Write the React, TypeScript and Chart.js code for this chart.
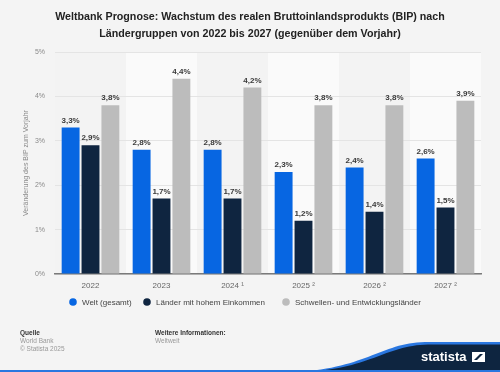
import React, { useEffect, useRef } from "react";
import { Chart, registerables } from "chart.js";

Chart.register(...registerables);

const categories = ["2022", "2023", "2024 ¹", "2025 ²", "2026 ²", "2027 ²"];
const seriesNames = ["Welt (gesamt)", "Länder mit hohem Einkommen", "Schwellen- und Entwicklungsländer"];
const welt = [3.3, 2.8, 2.8, 2.3, 2.4, 2.6];
const hohesEinkommen = [2.9, 1.7, 1.7, 1.2, 1.4, 1.5];
const schwellen = [3.8, 4.4, 4.2, 3.8, 3.8, 3.9];
const colors = ["#0766e2", "#0f2540", "#bcbcbc"];
const titleLines = [
  "Weltbank Prognose: Wachstum des realen Bruttoinlandsprodukts (BIP) nach",
  "Ländergruppen von 2022 bis 2027 (gegenüber dem Vorjahr)",
];
const yAxisTitle = "Veränderung des BIP zum Vorjahr";

const FONT = "'Liberation Sans', Arial, Helvetica, sans-serif";

const decoPlugin = {
  id: "deco",
  beforeDraw(chart: any) {
    const { ctx, chartArea, width, height } = chart;
    ctx.save();
    ctx.fillStyle = "#f4f4f4";
    ctx.fillRect(0, 0, width, height);
    const n = categories.length;
    const w = (chartArea.right - chartArea.left) / n;
    for (let i = 0; i < n; i++) {
      ctx.fillStyle = i % 2 === 0 ? "#f3f3f3" : "#fafafa";
      ctx.fillRect(chartArea.left + i * w, chartArea.top, w, chartArea.bottom - chartArea.top);
    }
    ctx.restore();
  },
  afterDatasetsDraw(chart: any) {
    const { ctx } = chart;
    ctx.save();
    ctx.font = `bold 8px ${FONT}`;
    ctx.fillStyle = "#3a3a3a";
    ctx.textAlign = "center";
    ctx.textBaseline = "bottom";
    chart.data.datasets.forEach((ds: any, di: number) => {
      const meta = chart.getDatasetMeta(di);
      meta.data.forEach((el: any, i: number) => {
        const v = ds.data[i];
        ctx.fillText(v.toFixed(1).replace(".", ",") + "%", el.x, el.y - 3);
      });
    });
    ctx.restore();
  },
  afterDraw(chart: any) {
    const { ctx, width, height } = chart;
    ctx.save();
    // title
    ctx.fillStyle = "#222";
    ctx.font = `bold 10.7px ${FONT}`;
    ctx.textAlign = "center";
    ctx.textBaseline = "middle";
    ctx.fillText(titleLines[0], 250, 17);
    ctx.fillText(titleLines[1], 250, 34);

    // legend
    ctx.textAlign = "left";
    ctx.font = `8px ${FONT}`;
    const lx = [73, 147, 286];
    const ly = 302;
    seriesNames.forEach((name, i) => {
      ctx.fillStyle = colors[i];
      ctx.beginPath();
      ctx.arc(lx[i], ly, 3.8, 0, Math.PI * 2);
      ctx.fill();
      ctx.fillStyle = "#444";
      ctx.fillText(name, lx[i] + 9, ly + 0.5);
    });

    // footer
    ctx.font = `bold 6.5px ${FONT}`;
    ctx.fillStyle = "#333";
    ctx.fillText("Quelle", 20, 333);
    ctx.fillText("Weitere Informationen:", 155, 333);
    ctx.font = `6.5px ${FONT}`;
    ctx.fillStyle = "#999";
    ctx.fillText("World Bank", 20, 341);
    ctx.fillText("© Statista 2025", 20, 349);
    ctx.fillText("Weltweit", 155, 341);

    // logo wave
    ctx.beginPath();
    ctx.moveTo(290, height);
    ctx.bezierCurveTo(365, height - 2, 380, 343, 425, 342);
    ctx.lineTo(width, 342);
    ctx.lineTo(width, height);
    ctx.closePath();
    ctx.fillStyle = "#2a77e0";
    ctx.fill();
    ctx.beginPath();
    ctx.moveTo(300, height);
    ctx.bezierCurveTo(370, height - 2, 384, 345.5, 428, 344.5);
    ctx.lineTo(width, 344.5);
    ctx.lineTo(width, height);
    ctx.closePath();
    ctx.fillStyle = "#0e2540";
    ctx.fill();
    ctx.fillStyle = "#2a77e0";
    ctx.fillRect(0, height - 2, width, 2);
    ctx.fillStyle = "#ffffff";
    ctx.font = `bold 13px ${FONT}`;
    ctx.textBaseline = "middle";
    ctx.fillText("statista", 421, 357);
    // icon
    ctx.fillRect(472, 352, 13, 10);
    ctx.fillStyle = "#0e2540";
    ctx.beginPath();
    ctx.moveTo(474, 360);
    ctx.lineTo(480, 354);
    ctx.lineTo(483, 354);
    ctx.lineTo(477, 360);
    ctx.closePath();
    ctx.fill();
    ctx.restore();
  },
};

export default function App() {
  const ref = useRef<HTMLCanvasElement>(null);
  useEffect(() => {
    document.body.style.margin = "0";
    const chart = new Chart(ref.current!, {
      type: "bar",
      data: {
        labels: categories,
        datasets: [
          { label: seriesNames[0], data: welt, backgroundColor: colors[0] },
          { label: seriesNames[1], data: hohesEinkommen, backgroundColor: colors[1] },
          { label: seriesNames[2], data: schwellen, backgroundColor: colors[2] },
        ],
      },
      options: {
        animation: false,
        responsive: false,
        devicePixelRatio: 1,
        layout: { padding: { top: 52, right: 19, left: 0, bottom: 0 } },
        datasets: { bar: { categoryPercentage: 0.84, barPercentage: 0.9 } },
        plugins: { legend: { display: false }, tooltip: { enabled: false }, title: { display: false } },
        scales: {
          x: {
            afterFit: (s: any) => { s.height = 98; },
            grid: { display: false, drawTicks: false },
            border: { display: true, color: "#7a7a7a", width: 1.5 },
            ticks: { color: "#666", font: { family: FONT, size: 8 }, padding: 7, maxRotation: 0 },
          },
          y: {
            min: 0,
            max: 5,
            afterFit: (s: any) => { s.width = 55; },
            grid: { color: "#e4e4e4", drawTicks: false },
            border: { display: false },
            ticks: {
              stepSize: 1,
              color: "#8a8a8a",
              font: { family: FONT, size: 7 },
              padding: 10,
              callback: (v: any) => v + "%",
            },
            title: {
              display: true,
              text: yAxisTitle,
              color: "#8a8a8a",
              font: { family: FONT, size: 7 },
              padding: { top: 22, bottom: 0 },
            },
          },
        },
      },
      plugins: [decoPlugin],
    });
    return () => chart.destroy();
  }, []);
  return (
    <div style={{ position: "absolute", left: 0, top: 0, width: 500, height: 372 }}>
      <canvas ref={ref} width={500} height={372} style={{ display: "block", width: 500, height: 372 }} />
    </div>
  );
}
